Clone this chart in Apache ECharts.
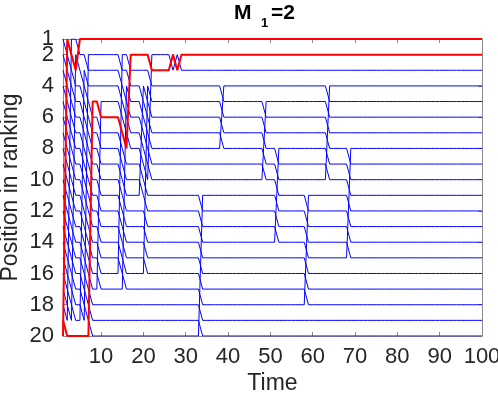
<!DOCTYPE html>
<html>
<head>
<meta charset="utf-8">
<script src="https://cdn.jsdelivr.net/npm/echarts@6/dist/echarts.min.js"></script>
<style>
  html, body { margin: 0; padding: 0; background: #fff; }
  #chart { width: 498px; height: 395px; }
</style>
</head>
<body>
<div id="chart"></div>
<script>
const nItems = 20
const timeStart = 1
const timeEnd = 100
// starting ranks of the two highlighted (red) items
const redStartRanks = [20, 19]
// rank changes: [time, old rank, new rank]
// the item at old rank climbs to new rank, the ones in between drop one place
const moves = [
  [2, 20, 1],
  [3, 19, 1],
  [4, 19, 2],
  [5, 3, 1],
  [6, 19, 3],
  [7, 19, 2],
  [8, 20, 5],
  [10, 17, 5],
  [15, 16, 2],
  [16, 17, 4],
  [17, 8, 2],
  [20, 11, 4],
  [21, 16, 4],
  [22, 10, 2],
  [27, 3, 2],
  [28, 3, 2],
  [29, 3, 2],
  [34, 20, 11],
  [39, 8, 4],
  [49, 10, 5],
  [52, 14, 8],
  [59, 18, 11],
  [64, 10, 4],
  [69, 15, 8],
]
const xTicks = [10, 20, 30, 40, 50, 60, 70, 80, 90, 100]
const yTicks = [1, 2, 4, 6, 8, 10, 12, 14, 16, 18, 20]

// follow every item through the ranking
function buildTracks() {
  let order = []
  for (let i = 0; i < nItems; i++) order.push(i)
  const tracks = order.map(() => [])
  const record = (t) => order.forEach((id, r) => tracks[id].push([t, r + 1]))
  record(timeStart)
  for (let t = timeStart + 1; t <= timeEnd; t++) {
    moves.filter(m => m[0] === t).forEach(([, from, to]) => {
      const id = order.splice(from - 1, 1)[0]
      order.splice(to - 1, 0, id)
    })
    record(t)
  }
  return tracks
}

const tracks = buildTracks()
const redIds = redStartRanks.map(r => r - 1)

const axisColor = '#262626'
const boxColor = '#8a8a8a'
const series = []
tracks.forEach((data, id) => {
  if (redIds.includes(id)) return
  series.push({
    type: 'line', data, symbol: 'none', silent: true, animation: false,
    lineStyle: { color: '#0000ff', width: 1 }, z: 2,
  })
})
redIds.forEach(id => {
  series.push({
    type: 'line', data: tracks[id], symbol: 'none', silent: true, animation: false,
    lineStyle: { color: '#ff0000', width: 2 }, z: 3,
  })
})

// two left axes share the scale so that labels "1" and "2" are both kept
const yLabelStyle = { fontSize: 22, color: axisColor, margin: 9, showMinLabel: true, showMaxLabel: true }
const chart = echarts.init(document.getElementById('chart'), null, { renderer: 'canvas' })
chart.setOption({
  animation: false,
  textStyle: { fontFamily: 'Liberation Sans, Arial, sans-serif' },
  grid: { left: 63, top: 39, width: 419, height: 297, show: false, containLabel: false, outerBoundsMode: 'none' },
  graphic: [
    { type: 'text', left: 234, top: 3, style: { text: 'M', font: 'bold 21px "Liberation Sans", Arial', fill: '#000' } },
    { type: 'text', left: 261, top: 17, style: { text: '1', font: 'bold 13px "Liberation Sans", Arial', fill: '#000' } },
    { type: 'text', left: 271, top: 3, style: { text: '=2', font: 'bold 21px "Liberation Sans", Arial', fill: '#000' } },
  ],
  xAxis: [
    {
      type: 'value', min: timeStart, max: timeEnd,
      name: 'Time', nameLocation: 'middle', nameGap: 36, nameMoveOverlap: false,
      nameTextStyle: { fontSize: 23, color: axisColor },
      axisLine: { show: true, lineStyle: { color: boxColor, width: 1 } },
      axisTick: { show: true, inside: true, length: 4, customValues: xTicks, lineStyle: { color: boxColor } },
      axisLabel: { customValues: xTicks, fontSize: 22, color: axisColor, margin: 10 },
      splitLine: { show: false },
    },
    {
      type: 'value', min: timeStart, max: timeEnd, position: 'top',
      axisLine: { show: true, lineStyle: { color: boxColor, width: 1 } },
      axisTick: { show: true, inside: true, length: 4, customValues: xTicks, lineStyle: { color: boxColor } },
      axisLabel: { show: false },
      splitLine: { show: false },
    },
  ],
  yAxis: [
    {
      type: 'value', min: 1, max: nItems, inverse: true,
      name: 'Position in ranking', nameLocation: 'middle', nameGap: 41, nameMoveOverlap: false,
      nameTextStyle: { fontSize: 23, color: axisColor },
      axisLine: { show: true, lineStyle: { color: boxColor, width: 1 } },
      axisTick: { show: true, inside: true, length: 4, customValues: yTicks, lineStyle: { color: boxColor } },
      axisLabel: Object.assign({ customValues: yTicks.slice(1) }, yLabelStyle),
      splitLine: { show: false },
    },
    {
      type: 'value', min: 1, max: nItems, inverse: true, position: 'right',
      axisLine: { show: true, lineStyle: { color: boxColor, width: 1 } },
      axisTick: { show: true, inside: true, length: 4, customValues: yTicks, lineStyle: { color: boxColor } },
      axisLabel: { show: false },
      splitLine: { show: false },
    },
    {
      type: 'value', min: 1, max: nItems, inverse: true, position: 'left', offset: 0,
      axisLine: { show: false },
      axisTick: { show: false },
      axisLabel: Object.assign({ customValues: yTicks.slice(0, 1) }, yLabelStyle),
      splitLine: { show: false },
    },
  ],
  series,
})
</script>
</body>
</html>
